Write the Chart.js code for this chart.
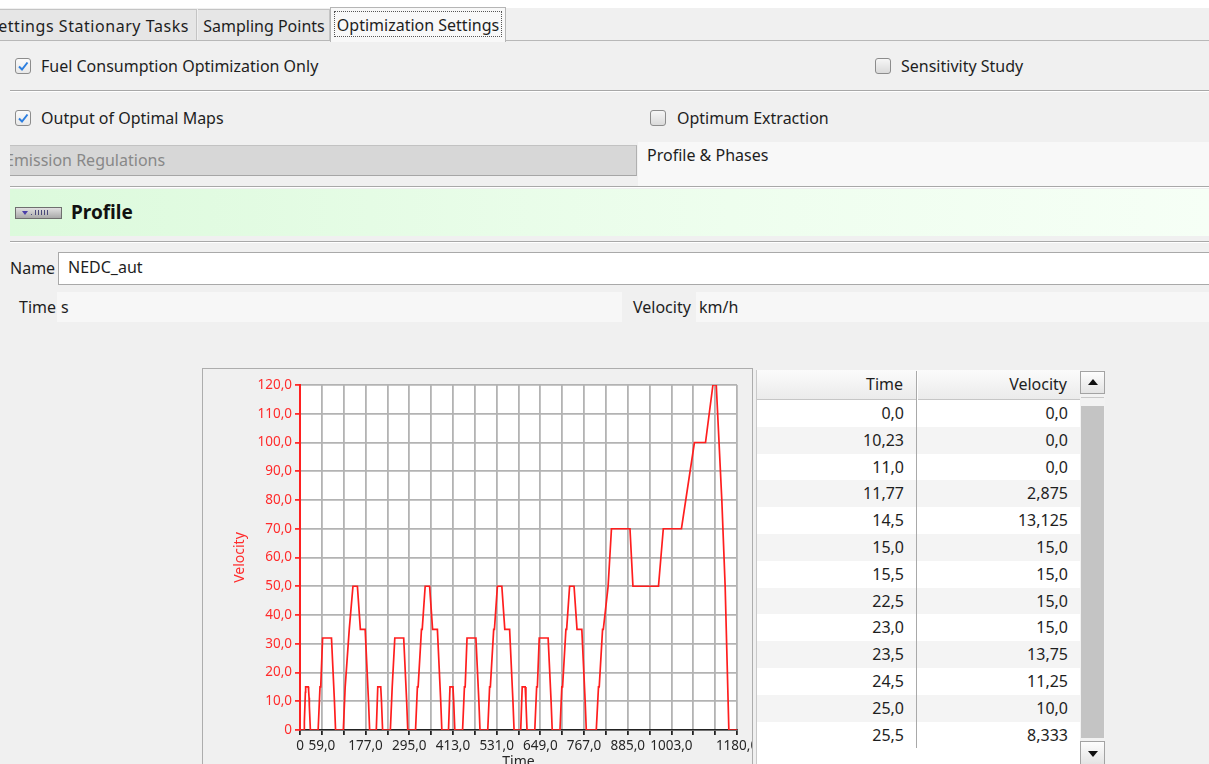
<!DOCTYPE html>
<html><head><meta charset="utf-8">
<script src="https://cdn.jsdelivr.net/npm/chart.js@4.4.1/dist/chart.umd.min.js"></script>
<style>
html,body{margin:0;padding:0;}
body{width:1209px;height:764px;overflow:hidden;background:#f0f0f0;font-family:"Noto Sans",sans-serif;font-size:16px;color:#1e1e1e;position:relative;}
.a{position:absolute;white-space:nowrap;}
.txt{height:24px;line-height:24px;}
.cb{position:absolute;width:14px;height:14px;border:1px solid #8c8c8c;border-radius:3px;background:linear-gradient(#f6f6f6,#dadada);}
.cb.on{background:linear-gradient(#fbfbfb,#e8e8e8);}
.sep{position:absolute;left:10px;width:1199px;height:0;border-top:1px solid #a8a8a8;border-bottom:1px solid #ffffff;}
.row{position:absolute;left:757px;width:323px;height:26.8px;line-height:26.8px;}
.row span{position:absolute;top:0;text-align:right;}
</style></head>
<body>
<!-- tab strip -->
<div class="a" style="left:0;top:0;width:1209px;height:8px;background:#fff"></div>
<div class="a" style="left:-6px;top:9px;width:203px;height:31px;background:#e6e6e6;border:1px solid #c4c4c4;border-bottom:none;box-sizing:border-box;"></div>
<div class="a txt" style="left:-40px;top:14px;width:229px;text-align:right;letter-spacing:0.55px;">Settings Stationary Tasks</div>
<div class="a" style="left:198px;top:9px;width:132px;height:31px;background:#e6e6e6;border:1px solid #c4c4c4;border-bottom:none;border-left:none;box-sizing:border-box;"></div>
<div class="a txt" style="left:198px;top:14px;width:132px;text-align:center;">Sampling Points</div>
<div class="a" style="left:330px;top:7px;width:176px;height:35px;background:#f8f8f8;border:1px solid #b5b5b5;border-bottom:none;box-sizing:border-box;"></div>
<div class="a" style="left:334px;top:11px;width:168px;height:26px;border:1px dotted #555;box-sizing:border-box;"></div>
<div class="a txt" style="left:330px;top:13px;width:176px;text-align:center;">Optimization Settings</div>
<div class="a" style="left:0;top:40px;width:330px;height:1px;background:#b8b8b8"></div>
<div class="a" style="left:506px;top:40px;width:703px;height:1px;background:#b8b8b8"></div>

<!-- option rows -->
<div class="cb on" style="left:15px;top:58px;"><svg width="14" height="14" style="position:absolute;left:0;top:0"><polyline points="3,7.5 6,10.5 11.5,3.5" fill="none" stroke="#2d7fe0" stroke-width="2"/></svg></div>
<div class="a txt" style="left:41px;top:54px;">Fuel Consumption Optimization Only</div>
<div class="cb" style="left:875px;top:58px;"></div>
<div class="a txt" style="left:901px;top:54px;">Sensitivity Study</div>
<div class="sep" style="top:90px;"></div>
<div class="cb on" style="left:15px;top:110px;"><svg width="14" height="14" style="position:absolute;left:0;top:0"><polyline points="3,7.5 6,10.5 11.5,3.5" fill="none" stroke="#2d7fe0" stroke-width="2"/></svg></div>
<div class="a txt" style="left:41px;top:106px;">Output of Optimal Maps</div>
<div class="cb" style="left:650px;top:110px;"></div>
<div class="a txt" style="left:677px;top:106px;">Optimum Extraction</div>

<div class="a" style="left:638px;top:142px;width:571px;height:44px;background:#f8f8f8;"></div>
<div class="a txt" style="left:647px;top:143px;">Profile &amp; Phases</div>
<div class="a" style="left:10px;top:145px;width:627px;height:31px;background:#d7d7d7;border-top:1px solid #c2c2c2;border-bottom:1px solid #a6a6a6;border-right:1px solid #b0b0b0;box-sizing:border-box;overflow:hidden;">
  <div class="a txt" style="left:-5px;top:2px;color:#888;">Emission Regulations</div>
</div>
<div class="sep" style="top:186px;"></div>

<!-- profile header -->
<div class="a" style="left:10px;top:189px;width:1199px;height:47px;background:linear-gradient(to right,#dcfadc,#eefeee 60%,#f6fff6);"></div>
<div class="a" style="left:15px;top:207px;width:47px;height:12px;box-sizing:border-box;border:1px solid #6f6f6f;background:linear-gradient(#e0e0e0,#a9a9a9);">
  <svg width="45" height="10" style="position:absolute;left:0;top:0"><polygon points="6,3 12,3 9,7" fill="#4b3fa8"/><g fill="#4a4a7a"><rect x="15" y="6" width="1" height="1"/><rect x="19" y="2" width="1" height="5"/><rect x="22" y="2" width="1" height="5"/><rect x="25" y="2" width="1" height="5"/><rect x="28" y="2" width="1" height="5"/><rect x="31" y="2" width="1" height="5"/></g></svg>
</div>
<div class="a txt" style="left:71px;top:200px;font-weight:bold;font-size:19px;color:#111;">Profile</div>
<div class="sep" style="top:241px;"></div>

<!-- name / units -->
<div class="a txt" style="left:10px;top:256px;">Name</div>
<div class="a" style="left:58px;top:252px;width:1151px;height:33px;background:#fff;border:1px solid #a9a9a9;border-right:none;box-sizing:border-box;"></div>
<div class="a txt" style="left:68px;top:255px;">NEDC_aut</div>
<div class="a txt" style="left:19px;top:295px;">Time</div>
<div class="a" style="left:57px;top:292px;width:565px;height:30px;background:#f7f7f7;"></div>
<div class="a txt" style="left:61px;top:295px;">s</div>
<div class="a txt" style="left:633px;top:295px;">Velocity</div>
<div class="a" style="left:696px;top:292px;width:513px;height:30px;background:#f7f7f7;"></div>
<div class="a txt" style="left:699px;top:295px;">km/h</div>

<!-- chart widget -->
<div class="a" style="left:202px;top:368px;width:549px;height:420px;border:1px solid #adadad;background:#f0f0f0;">
  <canvas id="c" width="549" height="410" style="position:absolute;left:0;top:0;"></canvas>
</div>

<!-- table -->
<div class="a" style="left:756px;top:370px;width:324px;height:394px;background:#fff;border-left:1px solid #c9c9c9;"></div>
<div class="a" style="left:757px;top:370px;width:323px;height:29px;background:linear-gradient(#fbfbfb,#ebebeb);border-bottom:1px solid #c6c6c6;"></div>
<div class="a txt" style="left:757px;top:372px;width:146px;text-align:right;">Time</div>
<div class="a txt" style="left:918px;top:372px;width:149px;text-align:right;">Velocity</div>
<div id="rows"></div>
<div class="a" style="left:916px;top:371px;width:1px;height:377px;background:#a9a9a9;"></div>
<div class="a" style="left:917px;top:371px;width:1px;height:29px;background:#fff;"></div>
<!-- scrollbar -->
<div class="a" style="left:1080px;top:370px;width:25px;height:394px;background:#f2f2f2;"></div>
<div class="a" style="left:1080px;top:371px;width:25px;height:23px;box-sizing:border-box;border:1px solid #a3a3a3;background:linear-gradient(#fdfdfd,#e4e4e4);">
  <div class="a" style="left:7px;top:7px;width:0;height:0;border-left:5px solid transparent;border-right:5px solid transparent;border-bottom:6px solid #111;"></div>
</div>
<div class="a" style="left:1081px;top:397px;width:23px;height:1px;background:#c8c8c8;"></div>
<div class="a" style="left:1081px;top:406px;width:23px;height:332px;background:#c4c4c4;"></div>
<div class="a" style="left:1080px;top:741px;width:25px;height:24px;box-sizing:border-box;border:1px solid #a3a3a3;background:linear-gradient(#fdfdfd,#e4e4e4);">
  <div class="a" style="left:7px;top:9px;width:0;height:0;border-left:5px solid transparent;border-right:5px solid transparent;border-top:6px solid #111;"></div>
</div>

<script>
// NEDC_aut velocity profile (time in s, velocity in km/h)
const timeS = [
  0, 10.23, 11, 11.77, 14.5, 15, 15.5, 22.5, 23, 23.5, 24.5, 25, 25.5, 28, 49, 54, 56, 61, 85, 93, 96, 117, 122, 124, 133, 135, 143, 155, 163, 176, 185, 188,
  206, 210, 218, 220, 223, 244, 249, 251, 256, 280, 288, 291, 312, 317, 319, 328, 330, 338, 350, 358, 371, 380, 383,
  401, 405, 413, 415, 418, 439, 444, 446, 451, 475, 483, 486, 507, 512, 514, 523, 525, 533, 545, 553, 566, 575, 578,
  596, 600, 608, 610, 613, 634, 639, 641, 646, 670, 678, 681, 702, 707, 709, 718, 720, 728, 740, 748, 761, 770, 773,
  800, 806, 808, 817, 819, 832, 834, 841, 891, 899, 968, 981, 1030, 1065, 1095, 1115, 1124, 1139, 1148, 1158, 1180
];
const velocityKmh = [
  0, 0, 0, 2.875, 13.125, 15, 15, 15, 15, 13.75, 11.25, 10, 8.333, 0, 0, 15, 15, 32, 32, 10, 0, 0, 15, 15, 35, 35, 50, 50, 35, 35, 10, 0,
  0, 15, 15, 10, 0, 0, 15, 15, 32, 32, 10, 0, 0, 15, 15, 35, 35, 50, 50, 35, 35, 10, 0,
  0, 15, 15, 10, 0, 0, 15, 15, 32, 32, 10, 0, 0, 15, 15, 35, 35, 50, 50, 35, 35, 10, 0,
  0, 15, 15, 10, 0, 0, 15, 15, 32, 32, 10, 0, 0, 15, 15, 35, 35, 50, 50, 35, 35, 10, 0,
  0, 15, 15, 35, 35, 50, 50, 70, 70, 50, 50, 70, 70, 100, 100, 120, 120, 80, 50, 0, 0
];
const xLabelValues = [0, 59, 177, 295, 413, 531, 649, 767, 885, 1003, 1180];
const xLabelTexts = ["0", "59,0", "177,0", "295,0", "413,0", "531,0", "649,0", "767,0", "885,0", "1003,0", "1180,0"];
const yTickValues = [0, 10, 20, 30, 40, 50, 60, 70, 80, 90, 100, 110, 120];
const yTickTexts = ["0", "10,0", "20,0", "30,0", "40,0", "50,0", "60,0", "70,0", "80,0", "90,0", "100,0", "110,0", "120,0"];
const tableRowCount = 13;

// table rows
function fmt(v){ return Number.isInteger(v) ? v + ",0" : String(v).replace(".", ","); }
const rowsEl = document.getElementById("rows");
for (let i = 0; i < tableRowCount; i++) {
  const r = document.createElement("div");
  r.className = "row";
  r.style.top = (400 + i * 26.8) + "px";
  r.style.background = i % 2 ? "#f4f4f4" : "#ffffff";
  r.innerHTML = '<span style="left:0;width:147px">' + fmt(timeS[i]) + '</span><span style="left:161px;width:150px">' + fmt(velocityKmh[i]) + '</span>';
  rowsEl.appendChild(r);
}

const points = timeS.map((t, i) => ({ x: t, y: velocityKmh[i] }));
const plotBg = { id: "plotBg", beforeDraw(c) { const a = c.chartArea, ctx = c.ctx; ctx.save(); ctx.fillStyle = "#ffffff"; ctx.fillRect(a.left, a.top, a.right - a.left, a.bottom - a.top); ctx.restore(); } };
const red = "#ff2b2b";
new Chart(document.getElementById("c"), {
  type: "line",
  data: { datasets: [{ data: points, borderColor: "#ff1e1e", borderWidth: 1.7, pointRadius: 0, tension: 0, fill: false }] },
  options: {
    responsive: false, animation: false,
    layout: { padding: { left: 0, top: 16, right: 15, bottom: 0 } },
    plugins: { legend: { display: false }, tooltip: { enabled: false } },
    scales: {
      x: {
        type: "linear", min: 0, max: 1180,
        ticks: { stepSize: 59, autoSkip: false, maxRotation: 0, minRotation: 0, padding: 3, color: "#262626", font: { family: "Noto Sans", size: 13.5 },
          callback: (v) => { const i = xLabelValues.indexOf(Math.round(v)); return i >= 0 ? xLabelTexts[i] : ""; } },
        grid: { color: "#b3b3b3", lineWidth: 1.8, tickColor: "#222", tickLength: 5 },
        border: { color: "#222", width: 1.6 },
        title: { display: true, text: "Time", color: "#262626", font: { family: "Noto Sans", size: 14 }, padding: { top: 0, bottom: 9 } },
        afterFit(s) { s.height = 49; s.paddingLeft = 0; s.paddingRight = 0; }
      },
      y: {
        min: 0, max: 120,
        ticks: { stepSize: 10, padding: 3, color: red, font: { family: "Noto Sans", size: 13.5 },
          callback: (v) => { const i = yTickValues.indexOf(Math.round(v)); return i >= 0 ? yTickTexts[i] : ""; } },
        grid: { color: "#b3b3b3", lineWidth: 1.8, tickColor: red, tickLength: 5 },
        border: { color: "#ff2020", width: 2 },
        title: { display: true, text: "Velocity", color: red, font: { family: "Noto Sans", size: 14 }, padding: { top: 28.6, bottom: 0 } },
        afterFit(s) { s.width = 97; s.paddingTop = 0; s.paddingBottom = 0; }
      }
    }
  },
  plugins: [plotBg]
});
</script>
</body></html>
